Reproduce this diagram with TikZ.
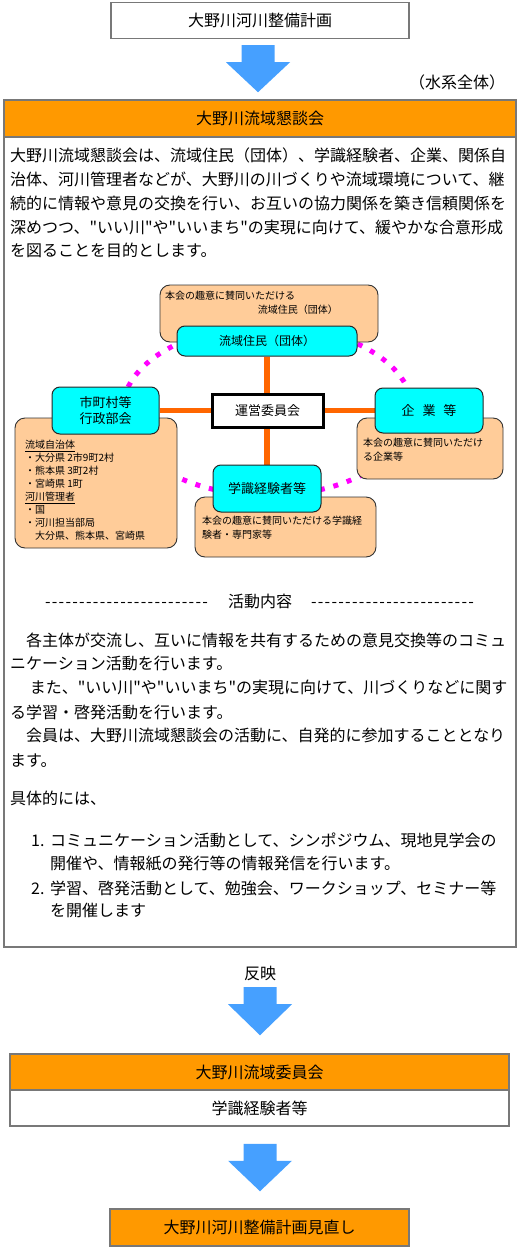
\documentclass[tikz,border=0pt]{standalone}
\usepackage{fontspec}
\newfontfamily\jp{Noto Sans CJK JP}
\usetikzlibrary{calc}
\pgfdeclarelayer{background}
\pgfsetlayers{background,main}
\definecolor{framegray}{RGB}{120,120,120}
\definecolor{hdrorange}{RGB}{255,153,0}
\definecolor{peachc}{RGB}{255,204,153}
\definecolor{cyanc}{RGB}{0,255,255}
\definecolor{linkorange}{RGB}{255,102,0}
\definecolor{dotmag}{RGB}{255,0,255}
\definecolor{arrowblue}{RGB}{70,160,255}
\newcommand\blockarrow[2]{\fill[arrowblue] ($(#1)+(-16.5,0)$) -- ($(#1)+(16.5,0)$) -- ($(#1)+(16.5,17)$) -- ($(#1)+(32,17)$) -- (#2) -- ($(#1)+(-32,17)$) -- ($(#1)+(-16.5,17)$) -- cycle;}
\begin{document}
\begin{tikzpicture}[x=1pt,y=-1pt,
 f16/.style={font=\jp\fontsize{16pt}{19pt}\selectfont, text height=14.08pt, text depth=1.92pt},
 f13/.style={font=\jp\fontsize{13pt}{16pt}\selectfont, text height=11.44pt, text depth=1.56pt},
 f12/.style={font=\jp\fontsize{12pt}{15pt}\selectfont, text height=10.56pt, text depth=1.44pt},
 f10/.style={font=\jp\fontsize{10pt}{12pt}\selectfont, text height=8.8pt, text depth=1.2pt},
 line/.style={anchor=west, inner sep=0pt},
 rline/.style={anchor=east, inner sep=0pt},
 frame/.style={draw=framegray, line width=1.5pt, inner sep=0pt},
 peach/.style={draw=black!80, fill=peachc, rounded corners=10pt, line width=0.9pt, inner sep=0pt},
 cyanbox/.style={draw=black!85, fill=cyanc, rounded corners=8pt, line width=1pt, inner sep=0pt, align=center},
 dotring/.style={draw=dotmag, line width=5pt, dash pattern=on 5pt off 9pt},
 link/.style={draw=linkorange, line width=5.5pt},
]
\useasboundingbox (0,0) rectangle (519,1252);
% top plan
\node[frame, fill=white, f16, minimum width=298pt, minimum height=36pt] (plan) at (260,20.5) {大野川河川整備計画};
\node[f16, inner sep=0pt] (scope) at (457,82) {（水系全体）};
% main frame
\node[frame, minimum width=512pt, minimum height=847pt] (main) at (260,523.5) {};
\node[frame, fill=hdrorange, f16, minimum width=512pt, minimum height=37pt] (mainhdr) at (260,118.5) {大野川流域懇談会};
\coordinate (a1top) at ($(plan.south)+(-2,6)$);
\coordinate (a1tip) at ($(mainhdr.north)+(-2,-7)$);
\blockarrow{a1top}{a1tip}
% body text
\node[line, f16] (b1) at (10,155) {大野川流域懇談会は、流域住民（団体）、学識経験者、企業、関係自};
\node[line, f16] (b2) at (10,179) {治体、河川管理者などが、大野川の川づくりや流域環境について、継};
\node[line, f16] (b3) at (10,203) {続的に情報や意見の交換を行い、お互いの協力関係を築き信頼関係を};
\node[line, f16] (b4) at (10,227) {深めつつ、"いい川"や"いいまち"の実現に向けて、緩やかな合意形成};
\node[line, f16] (b5) at (10,250) {を図ることを目的とします。};
% diagram
\node[peach, minimum width=218pt, minimum height=57pt] (ptop) at (269,313.5) {};
\node[peach, minimum width=162pt, minimum height=130pt] (pleft) at (96,483) {};
\node[peach, minimum width=146pt, minimum height=61pt] (pright) at (430,448.5) {};
\node[peach, minimum width=181pt, minimum height=60pt] (pbot) at (285.5,527) {};
\node[line, f10] (tt1) at (165,296) {本会の趣意に賛同いただける};
\node[rline, f10] (tt2) at (338,310) {流域住民（団体）};
\node[line, f10] (lt1) at (25,445) {\underline{流域自治体}};
\node[line, f10] (lt2) at (25,458) {・大分県 2市9町2村};
\node[line, f10] (lt3) at (25,471) {・熊本県 3町2村};
\node[line, f10] (lt4) at (25,484) {・宮崎県 1町};
\node[line, f10] (lt5) at (25,497) {\underline{河川管理者}};
\node[line, f10] (lt6) at (25,510) {・国};
\node[line, f10] (lt7) at (25,523) {・河川担当部局};
\node[line, f10] (lt8) at (25,536) {　大分県、熊本県、宮崎県};
\node[line, f10] (rt1) at (363,443) {本会の趣意に賛同いただけ};
\node[line, f10] (rt2) at (363,457) {る企業等};
\node[line, f10] (bt1) at (202,521) {本会の趣意に賛同いただける学識経};
\node[line, f10] (bt2) at (202,535) {験者・専門家等};
\node[cyanbox, f12, minimum width=180pt, minimum height=30pt] (ctop) at (267,341) {流域住民（団体）};
\node[cyanbox, font=\jp\fontsize{13pt}{16pt}\selectfont, minimum width=107pt, minimum height=47pt] (cleft) at (105.5,410.5) {市町村等\\行政部会};
\node[cyanbox, f13, minimum width=108pt, minimum height=45pt] (cright) at (429,410.5) {{\spaceskip=8pt 企 業 等}};
\node[cyanbox, f13, minimum width=108pt, minimum height=47pt] (cbot) at (267,488.5) {学識経験者等};
\node[draw=black, line width=3pt, fill=white, f13, inner sep=0pt, minimum width=111pt, minimum height=33pt] (center) at (267.5,410.5) {運営委員会};
\begin{pgfonlayer}{background}
\draw[dotring] (center.center) ellipse [x radius=145, y radius=85];
\draw[link] (ctop.south) -- (cbot.north);
\draw[link] (cleft.east) -- (cright.west);
\end{pgfonlayer}
% activities
\node[f16, inner sep=0pt] (act) at (260,601) {活動内容};
\node[f16, inner sep=0pt] (dl) at (126.5,601) {\hbox to 163pt{-\foreach \i in {1,...,23}{\hfill-}}};
\node[f16, inner sep=0pt] (dr) at (392.5,601) {\hbox to 163pt{-\foreach \i in {1,...,23}{\hfill-}}};
\node[line, f16] (c1) at (10,640) {　各主体が交流し、互いに情報を共有するための意見交換等のコミュ};
\node[line, f16] (c2) at (10,663) {ニケーション活動を行います。};
\node[line, f16] (c3) at (10,687) {　 また、"いい川"や"いいまち"の実現に向けて、川づくりなどに関す};
\node[line, f16] (c4) at (10,712) {る学習・啓発活動を行います。};
\node[line, f16] (c5) at (10,735) {　会員は、大野川流域懇談会の活動に、自発的に参加することとなり};
\node[line, f16] (c6) at (10,760) {ます。};
\node[line, f16] (d0) at (10,798) {具体的には、};
\node[line, f16] (n1) at (31,840) {1.};
\node[line, f16] (d1) at (50,840) {コミュニケーション活動として、シンポジウム、現地見学会の};
\node[line, f16] (d2) at (50,863) {開催や、情報紙の発行等の情報発信を行います。};
\node[line, f16] (n2) at (31,888) {2.};
\node[line, f16] (d3) at (50,888) {学習、啓発活動として、勉強会、ワークショップ、セミナー等};
\node[line, f16] (d4) at (50,910) {を開催します};
% bottom
\node[f16, inner sep=0pt] (fanei) at (260,973) {反映};
\node[frame, fill=hdrorange, f16, minimum width=499pt, minimum height=36pt] (comH) at (259.5,1072) {大野川流域委員会};
\node[frame, fill=white, f16, minimum width=499pt, minimum height=36pt] (comL) at (259.5,1108) {学識経験者等};
\node[frame, fill=hdrorange, f16, minimum width=299pt, minimum height=37pt] (review) at (259.5,1227.5) {大野川河川整備計画見直し};
\coordinate (a2top) at ($(fanei.south)+(0,6)$);
\coordinate (a2tip) at ($(comH.north)+(0.5,-18)$);
\blockarrow{a2top}{a2tip}
\coordinate (a3top) at ($(comL.south)+(0.5,17)$);
\coordinate (a3tip) at ($(review.north)+(0.5,-17)$);
\blockarrow{a3top}{a3tip}
\end{tikzpicture}
\end{document}
